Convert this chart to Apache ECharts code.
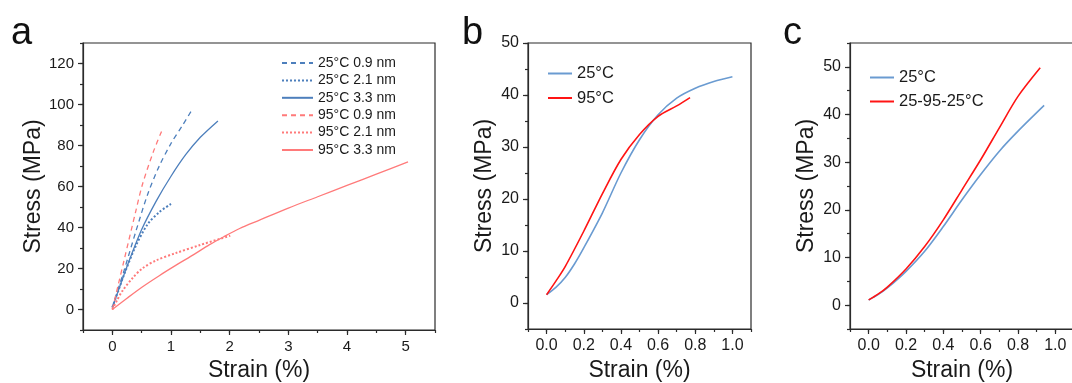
<!DOCTYPE html>
<html><head><meta charset="utf-8">
<script src="https://cdn.jsdelivr.net/npm/echarts@6/dist/echarts.min.js"></script>
<style>html,body{margin:0;padding:0;background:#fff}#c{width:1072px;height:383px}</style>
</head><body><div id="c"></div>
<script>
// ---------- data ----------
// Panel a: strain (%) , stress (MPa)
const a25_09 = [[0,1],[0.1,10],[0.2,19],[0.4,38],[0.6,56],[0.8,70],[1.0,81],[1.2,90],[1.36,97.5]];
const a25_21 = [[0,1],[0.1,9],[0.2,17],[0.4,31],[0.6,41.5],[0.8,47.5],[1.0,51.5]];
const a25_33 = [[0,1],[0.1,9],[0.25,21],[0.5,39],[0.75,53],[1.0,65],[1.25,75.5],[1.5,84],[1.8,92]];
const a95_09 = [[0,0],[0.1,12],[0.2,24],[0.4,48],[0.513,61],[0.7,77],[0.855,88]];
const a95_21 = [[0,0],[0.08,4.5],[0.17,9],[0.35,15.5],[0.51,20],[0.75,24],[1.08,27.5],[1.5,31.5],[2.01,36]];
const a95_33 = [[0,0],[0.25,5.5],[0.51,11],[0.8,16.5],[1.08,21.5],[1.4,27],[1.65,31.5],[1.9,35.5],[2.17,39.5],[2.5,43.5],[3,49.5],[3.5,55],[4,60.5],[4.5,66],[5.04,72]];
const aNames = ['25°C 0.9 nm','25°C 2.1 nm','25°C 3.3 nm','95°C 0.9 nm','95°C 2.1 nm','95°C 3.3 nm'];
// Panel b
const b25 = [[0,1.6],[0.05,3],[0.1,4.9],[0.15,7.5],[0.2,10.6],[0.3,17.3],[0.4,25],[0.5,31.4],[0.6,36.2],[0.7,39.4],[0.8,41.3],[0.9,42.6],[1.0,43.5]];
const b95 = [[0,1.6],[0.05,4.2],[0.1,7],[0.2,13.8],[0.3,21],[0.4,27.6],[0.5,32.4],[0.6,35.9],[0.7,37.9],[0.772,39.5]];
const bNames = ['25°C','95°C'];
// Panel c
const c25 = [[0,1.1],[0.05,2.2],[0.1,3.6],[0.2,7.1],[0.3,11.3],[0.4,16.5],[0.5,22.1],[0.6,27.4],[0.7,32.3],[0.8,36.5],[0.94,41.9]];
const cCyc = [[0,1.1],[0.05,2.3],[0.1,3.8],[0.2,7.6],[0.3,12.3],[0.4,17.9],[0.5,24.2],[0.6,30.5],[0.7,37.2],[0.8,43.8],[0.919,49.8]];
const cNames = ['25°C','25-95-25°C'];
// tick labels
const aXTicks = [0,1,2,3,4,5];
const aYTicks = [0,20,40,60,80,100,120];
const bXTicks = [0,0.2,0.4,0.6,0.8,1.0];
const bYTicks = [0,10,20,30,40,50];
const cXTicks = [0,0.2,0.4,0.6,0.8,1.0];
const cYTicks = [0,10,20,30,40,50];
const panelLetters = ['a','b','c'];

// ---------- style ----------
const FONT = "'Liberation Sans', Arial, sans-serif";
const AX = '#2b2b2b', TXT = '#1a1a1a';
const BLUE_A = '#4d7fbc', RED_A = '#ff7a7a';
const BLUE_B = '#6a9bd1', RED_B = '#ff1414';

function mainAxis(grid, min, max, ticks, fs, name, gap, isX, dec) {
  return {
    type: 'value', gridIndex: grid, min: min, max: max, position: isX ? 'bottom' : 'left',
    name: name, nameLocation: 'middle', nameGap: gap,
    nameTextStyle: {fontFamily: FONT, fontSize: 23, color: TXT},
    axisLine: {show: true, onZero: false, lineStyle: {color: AX, width: 1.2}},
    axisTick: {show: true, inside: false, length: 5, customValues: ticks, lineStyle: {color: AX, width: 1.2}},
    axisLabel: {show: true, customValues: ticks, margin: 9, fontFamily: FONT, fontSize: fs, color: TXT,
      formatter: v => dec ? v.toFixed(1) : String(v)},
    splitLine: {show: false}
  };
}
function minorAxis(grid, min, max, interval, isX) {
  return {
    type: 'value', gridIndex: grid, min: min, max: max, interval: interval, position: isX ? 'bottom' : 'left',
    axisLine: {show: false, onZero: false},
    axisTick: {show: true, inside: false, length: 3, lineStyle: {color: AX, width: 1.2}},
    axisLabel: {show: false}, splitLine: {show: false}
  };
}

const xAxis = [
  mainAxis(0, -0.5, 5.5, aXTicks, 15, 'Strain (%)', 28, true, false), minorAxis(0, -0.5, 5.5, 0.5, true),
  mainAxis(1, -0.1, 1.1, bXTicks, 16, 'Strain (%)', 30, true, true), minorAxis(1, -0.1, 1.1, 0.1, true),
  mainAxis(2, -0.1, 1.1, cXTicks, 16, 'Strain (%)', 29, true, true), minorAxis(2, -0.1, 1.1, 0.1, true)
];
const yAxis = [
  mainAxis(0, -10, 130, aYTicks, 15, 'Stress (MPa)', 37, false, false), minorAxis(0, -10, 130, 10, false),
  mainAxis(1, -5, 50, bYTicks, 16, 'Stress (MPa)', 32, false, false), minorAxis(1, -5, 50, 5, false),
  mainAxis(2, -5, 55, cYTicks, 16, 'Stress (MPa)', 32, false, false), minorAxis(2, -5, 55, 5, false)
];

function ser(name, data, axis, color, width, type) {
  return {type: 'line', name: name, data: data, xAxisIndex: axis, yAxisIndex: axis,
    showSymbol: false, symbol: 'none', smooth: 0.3, color: color,
    lineStyle: {color: color, width: width, type: type}, z: 3};
}
const series = [
  ser(aNames[0], a25_09, 0, BLUE_A, 1.3, [5, 4]),
  ser(aNames[1], a25_21, 0, BLUE_A, 2, [2, 2]),
  ser(aNames[2], a25_33, 0, BLUE_A, 1.3, 'solid'),
  ser(aNames[3], a95_09, 0, RED_A, 1.3, [5, 4]),
  ser(aNames[4], a95_21, 0, RED_A, 2, [2, 2]),
  ser(aNames[5], a95_33, 0, RED_A, 1.3, 'solid'),
  ser(bNames[0], b25, 2, BLUE_B, 1.6, 'solid'),
  ser(bNames[1], b95, 2, RED_B, 1.6, 'solid'),
  ser(cNames[0], c25, 4, BLUE_B, 1.6, 'solid'),
  ser(cNames[1], cCyc, 4, RED_B, 1.6, 'solid')
];

const gridStyle = {show: true, borderColor: AX, borderWidth: 1.2, backgroundColor: 'transparent',
  containLabel: false, outerBoundsMode: 'none'};
const option = {
  animation: false,
  backgroundColor: '#fff',
  grid: [
    Object.assign({left: 83, top: 43, width: 352, height: 287}, gridStyle),
    Object.assign({left: 528, top: 43, width: 223, height: 286}, gridStyle),
    Object.assign({left: 850, top: 43, width: 224, height: 286}, gridStyle)
  ],
  xAxis: xAxis, yAxis: yAxis,
  legend: [
    {data: aNames, orient: 'vertical', left: 281, top: 56, padding: 0, itemWidth: 31, itemHeight: 14, itemGap: 3.4,
      itemStyle: {opacity: 0}, textStyle: {fontFamily: FONT, fontSize: 14, color: TXT}},
    {data: bNames, orient: 'vertical', left: 547, top: 65, padding: 0, itemWidth: 24, itemHeight: 16, itemGap: 7.5,
      itemStyle: {opacity: 0}, textStyle: {fontFamily: FONT, fontSize: 16.5, color: TXT}},
    {data: cNames, orient: 'vertical', left: 869, top: 69, padding: 0, itemWidth: 24, itemHeight: 16, itemGap: 7,
      itemStyle: {opacity: 0}, textStyle: {fontFamily: FONT, fontSize: 16.5, color: TXT}}
  ],
  graphic: [
    {type: 'text', left: 11, top: 15, style: {text: panelLetters[0], font: "38px " + FONT, fill: '#111'}},
    {type: 'text', left: 462, top: 15, style: {text: panelLetters[1], font: "38px " + FONT, fill: '#111'}},
    {type: 'text', left: 783, top: 15, style: {text: panelLetters[2], font: "38px " + FONT, fill: '#111'}}
  ],
  series: series
};
const chart = echarts.init(document.getElementById('c'), null, {renderer: 'canvas'});
chart.setOption(option);
</script></body></html>
